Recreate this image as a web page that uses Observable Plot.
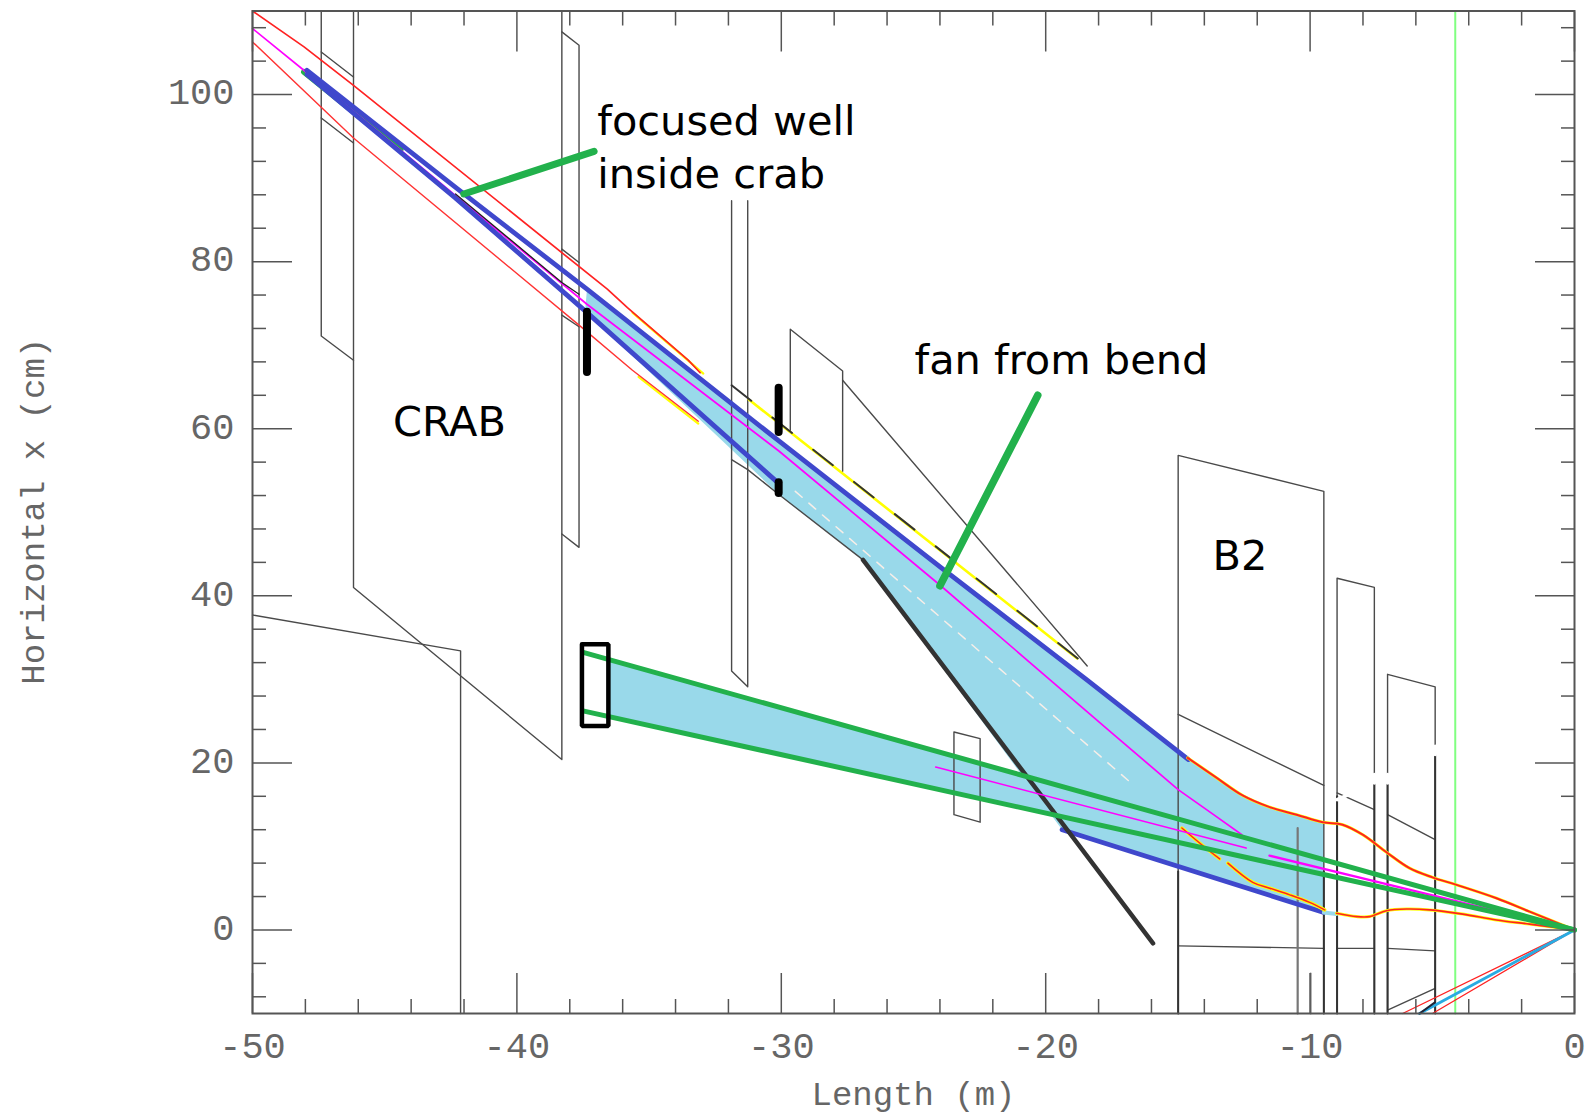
<!DOCTYPE html>
<html><head><meta charset="utf-8">
<script src="https://cdn.jsdelivr.net/npm/d3@7"></script>
<script src="https://cdn.jsdelivr.net/npm/@observablehq/plot@0.6"></script>
<style>html,body{margin:0;padding:0;background:#fff;overflow:hidden}svg{display:block}</style>
</head><body><div id="chart"></div>
<script>
const xMajor=[-50,-40,-30,-20,-10,0];
const xMinor=[-48,-46,-44,-42,-38,-36,-34,-32,-28,-26,-24,-22,-18,-16,-14,-12,-8,-6,-4,-2];
const yMajor=[0,20,40,60,80,100];
const yMinor=[-8,-4,4,8,12,16,24,28,32,36,44,48,52,56,64,68,72,76,84,88,92,96,104,108];

// Apertures and magnets
const crabOuter=[[-47.40,110],[-47.40,71.1],[-46.18,68.2]];
const crabUpperEdge=[[-47.40,105.1],[-46.18,102.1]];
const crabLowerEdge=[[-47.40,97.2],[-46.18,94.2]];
const crab=[[-46.18,110],[-46.18,41.0],[-38.30,20.4],[-38.30,110]];
const narrowRect=[[-38.30,107.5],[-37.65,105.9],[-37.65,45.8],[-38.30,47.4]];
const narrowMidTop=[[-38.30,81.5],[-37.65,79.9]];
const narrowMidLow=[[-38.30,73.6],[-37.65,72.2]];
const tunnel=[[-50,37.7],[-42.13,33.4],[-42.13,-10]];
const quadRect=[[-31.88,87.3],[-31.88,31.0],[-31.27,29.1],[-31.27,87.3]];
const quadLower=[[-31.88,56.3],[-31.27,55.1],[-30.08,52.1],[-26.91,44.3]];
const steelRect=[[-29.66,59.7],[-29.66,71.9],[-27.68,66.9],[-27.68,54.9]];
const steelEdge=[[-27.68,65.8],[-18.43,31.6]];
const smallRect=[[-23.47,23.7],[-22.48,22.9],[-22.48,12.9],[-23.47,13.8],[-23.47,23.7]];
const b2Rect=[[-14.99,-10],[-14.99,56.8],[-9.48,52.5],[-9.48,-10]];
const b2Mid=[[-14.99,25.8],[-9.48,17.3]];
const b2Low=[[-14.99,-1.9],[-9.48,-2.2]];
const d2Rect=[[-8.98,-10],[-8.98,42.1],[-7.57,41.0],[-7.57,-10]];
const d2Mid=[[-8.98,16.4],[-7.57,14.4]];
const d2Low=[[-8.98,-2.2],[-7.57,-2.2]];
const d3Rect=[[-7.07,-10],[-7.07,30.6],[-5.27,29.1],[-5.27,-10]];
const d3Mid=[[-7.07,13.8],[-5.27,10.8]];
const d3Low=[[-7.07,-2.2],[-5.27,-2.5]];
const d3Bottom=[[-7.07,-9.6],[-5.27,-7.0]];
const stub1=[[-10.47,12.2],[-10.47,-10]];
const stub2=[[-9.98,-5.2],[-9.98,-10]];
const darkVerticals=[[[-14.99,7],[-14.99,-10]],[[-9.48,7],[-9.48,-10]],[[-8.98,16],[-8.98,-10]],[[-7.57,18],[-7.57,-10]],[[-7.07,18],[-7.07,-10]],[[-5.27,21],[-5.27,-10]]];
const whiteGaps=[[[-5.27,21],[-5.27,22]],[[-7.57,17.6],[-7.57,18.6]],[[-7.07,17.6],[-7.07,18.6]],[[-8.98,15.6],[-8.1,16.8]]];
const innerBlack=[[-42.32,88.1],[-38.30,77.5],[-37.65,76.1]];
const thickWall=[[-26.91,44.3],[-15.94,-1.6]];

// Beam envelopes
const redTop=[[-50,110],[-48.05,105.7],[-46.18,101.1],[-36.58,76.7],[-35.82,74.5],[-33.52,68.2],[-33.07,66.7]];
const redBottom=[[-50,106.3],[-46.18,94.8],[-37.65,72.4],[-35.63,67.0],[-33.14,60.9]];
const yellowTop=[[-35.63,73.9],[-32.95,66.6]];
const yellowBottom=[[-35.4,66.2],[-33.14,60.6]];
const yellowEdge=[[-31.23,63.5],[-18.81,32.5]];
const blackEdge=[[-31.88,65.2],[-18.43,31.6]];
const greenStub=[[-48.05,102.7],[-44.4,93.4]];
const blueTop=[[-47.94,102.9],[-42.32,88.9],[-37.35,76.7],[-30.08,58.5],[-23.97,43.4],[-18.43,29.9],[-14.60,20.4]];
const blueBottom=[[-47.94,102.4],[-42.32,87.6],[-37.42,74.1],[-30.08,53.4]];
const blueLow=[[-19.38,12.0],[-9.48,2.1]];
const magentaMain=[[-50,107.9],[-47.86,102.4],[-37.35,74.9],[-30.08,57.3],[-23.97,41.2],[-17.47,23.5],[-14.99,16.8],[-13.65,13.8],[-12.58,11.4]];
const magentaA=[[-24.16,19.5],[-12.42,9.8]];
const magentaB=[[-11.54,8.9],[0,0]];
const whiteDash=[[-29.47,52.5],[-16.7,17.4]];
const redUpperCurve=[[-14.63,20.6],[-13.53,18.2],[-12.55,16.1],[-11.53,14.7],[-10.51,13.8],[-9.52,12.9],[-8.77,12.6],[-8.01,11.4],[-7.11,9.3],[-6.24,7.4],[-5.37,6.3],[-4.46,5.4],[-2.95,3.8],[-1.70,2.2],[0,0]];
const redLowerCurve=[[-9.0,2.0],[-8.24,1.6],[-7.75,1.6],[-7.11,2.3],[-6.35,2.5],[-5.48,2.4],[-4.23,1.9],[-2.95,1.2],[-1.70,0.7],[0,0]];
const redInnerA=[[-14.85,12.2],[-14.10,10.2],[-13.42,8.5]];
const redInnerB=[[-13.11,8.0],[-12.17,5.7],[-11.53,5.0],[-10.77,4.2],[-10.02,3.3],[-9.45,2.4]];
const mirrorRedA=[[0,0],[-6.5,-10]];
const mirrorRedB=[[0,0],[-5.37,-10]];
const mirrorCyan=[[0,0],[-5.86,-10]];
const mirrorBlue=[[-5.86,-10],[-5.29,-8.7]];
const tail=[[-9.48,2.1],[-9.0,1.9]];

// Fills and green beam
const fan=[[-37.35,76.7],[-30.08,58.5],[-23.97,43.4],[-18.43,29.9],[-14.60,20.4],[-13.53,18.2],[-12.55,16.1],[-11.53,14.7],[-10.51,13.8],[-9.48,12.9],[-9.48,2.1],[-19.38,12.0],[-26.91,44.3],[-30.08,52.1],[-37.42,74.1]];
const bendFan=[[-36.54,32.3],[-15,13.3],[-15,10.5],[-36.54,25.6]];
const greenUpper=[[-37.46,33.2],[0,0]];
const greenLower=[[-37.46,26.2],[0,0]];
const arrow1=[[-42.01,88.1],[-37.08,93.2]];
const arrow2=[[-20.3,64],[-24,41.2]];
const marker1=[[-37.35,74.0],[-37.35,66.8]];
const marker2=[[-30.1,64.9],[-30.1,59.6]];
const marker3=[[-30.1,53.6],[-30.1,52.3]];
const box=[[-37.54,34.2],[-36.54,34.2],[-36.54,24.4],[-37.54,24.4],[-37.54,34.2]];
const greenMark=[[-4.51,110],[-4.51,-10]];

const noteTexts=["focused well","inside crab","fan from bend"];
const noteX=[-36.96,-36.96,-24.96];
const noteY=[96.7,90.4,68.1];
const nameTexts=["CRAB","B2"];
const nameX=[-42.55,-12.65];
const nameY=[60.7,44.7];

const ln=(d,stroke,strokeWidth=1.4,o={})=>Plot.line(d,{stroke,strokeWidth,strokeLinejoin:"round",...o});
const ap="#4a4a4a";
const axisFont="Liberation Mono";
const axisColor="#666";
const tickOpts={fill:"none",stroke:"#555",strokeWidth:1.5,label:null};
const smooth={curve:"catmull-rom"};

const marks=[
  ln(fan,"none",0,{fill:"#99d9ea"}),
  ln(bendFan,"none",0,{fill:"#99d9ea"}),
  ...[crabOuter,crabUpperEdge,crabLowerEdge,crab,narrowRect,narrowMidTop,narrowMidLow,tunnel,quadRect,quadLower,steelRect,steelEdge,smallRect,b2Rect,b2Mid,b2Low,d2Rect,d2Mid,d2Low,d3Rect,d3Mid,d3Low,d3Bottom].map(d=>ln(d,ap)),
  ln(stub1,"#777",2.2),ln(stub2,"#888",2),
  ...darkVerticals.map(d=>ln(d,"#333",2)),
  ...whiteGaps.map(d=>ln(d,"#fff",3.5)),
  ln(greenMark,"#80ff80",2),
  ln(yellowTop,"#ff0",2.2),ln(yellowBottom,"#ff0",2.2),
  ln(redTop,"#f22",1.7),ln(redBottom,"#f33",1.4),
  ln(yellowEdge,"#ff0",2.6),
  ln(blackEdge,"#333",2,{strokeDasharray:"25 27"}),
  ln(greenStub,"#22b14c",6),
  ln(magentaMain,"#ff00ff",1.7),
  ln(whiteDash,"#f7eee8",1.5,{strokeDasharray:"9 9"}),
  ln(blueTop,"#3f48cc",4.8),ln(blueBottom,"#3f48cc",4.8),ln(blueLow,"#3f48cc",4.8),
  ln(innerBlack,"#222",1.3),
  ln(tail,"#99d9ea",4),
  ln(thickWall,"#333",4.5),
  ln(redUpperCurve,"#ff0",3,smooth),ln(redUpperCurve,"#f22",2,smooth),
  ln(redLowerCurve,"#ff0",3,smooth),ln(redLowerCurve,"#f22",1.6,smooth),
  ln(redInnerA,"#ff0",3.5,smooth),ln(redInnerA,"#f22",1.5,smooth),
  ln(redInnerB,"#ff0",3.5,smooth),ln(redInnerB,"#f22",1.5,smooth),
  ln(mirrorRedA,"#f22",1.3),ln(mirrorRedB,"#f22",1.3),
  ln(mirrorCyan,"#29abe2",3),ln(mirrorBlue,"#223",2),
  ln(magentaA,"#ff00ff",1.6),ln(magentaB,"#ff00ff",2.2),
  ln(greenUpper,"#22b14c",5),ln(greenLower,"#22b14c",5),
  ln(arrow1,"#22b14c",7,{strokeLinecap:"round"}),
  ln(arrow2,"#22b14c",7.5,{strokeLinecap:"round"}),
  ln(marker1,"#000",8,{strokeLinecap:"round"}),
  ln(marker2,"#000",8,{strokeLinecap:"round"}),
  ln(marker3,"#000",8),
  ln(box,"#000",4.5,{strokeLinejoin:"miter"}),
  Plot.text(noteTexts,{x:(d,i)=>noteX[i],y:(d,i)=>noteY[i],text:d=>d,textAnchor:"start",fontFamily:"DejaVu Sans",fontSize:41.5,fill:"#000"}),
  Plot.text(nameTexts,{x:(d,i)=>nameX[i],y:(d,i)=>nameY[i],text:d=>d,fontFamily:"DejaVu Sans",fontSize:41.5,fill:"#000"}),
  Plot.frame({stroke:"#555",strokeWidth:2}),
  Plot.axisX(xMajor,{anchor:"bottom",tickSize:0,tickPadding:18,label:null,tickFormat:d=>String(d),fontFamily:axisFont,fontSize:37,fill:axisColor}),
  Plot.axisY(yMajor,{anchor:"left",tickSize:0,tickPadding:18,dy:-2,label:null,tickFormat:d=>String(d),fontFamily:axisFont,fontSize:37,fill:axisColor}),
  Plot.text(["Length (m)"],{frameAnchor:"bottom",lineAnchor:"middle",dy:81,text:d=>d,fontFamily:axisFont,fontSize:34,fill:axisColor}),
  Plot.text(["Horizontal x (cm)"],{frameAnchor:"left",textAnchor:"middle",dx:-219,dy:-1,rotate:-90,text:d=>d,fontFamily:axisFont,fontSize:34,fill:axisColor}),
  Plot.axisX(xMajor,{anchor:"bottom",tickSize:-40,...tickOpts}),
  Plot.axisX(xMajor,{anchor:"top",tickSize:-40,...tickOpts}),
  Plot.axisX(xMinor,{anchor:"bottom",tickSize:-14,...tickOpts}),
  Plot.axisX(xMinor,{anchor:"top",tickSize:-14,...tickOpts}),
  Plot.axisY(yMajor,{anchor:"left",tickSize:-40,...tickOpts}),
  Plot.axisY(yMajor,{anchor:"right",tickSize:-40,...tickOpts}),
  Plot.axisY(yMinor,{anchor:"left",tickSize:-14,...tickOpts}),
  Plot.axisY(yMinor,{anchor:"right",tickSize:-14,...tickOpts})
];
const chart=Plot.plot({width:1585,height:1116,marginLeft:252,marginRight:11,marginTop:10.5,marginBottom:103,
  x:{domain:[-50,0]},y:{domain:[-10,110]},style:{background:"#fff",overflow:"visible"},marks});
document.getElementById("chart").append(chart);
</script></body></html>
